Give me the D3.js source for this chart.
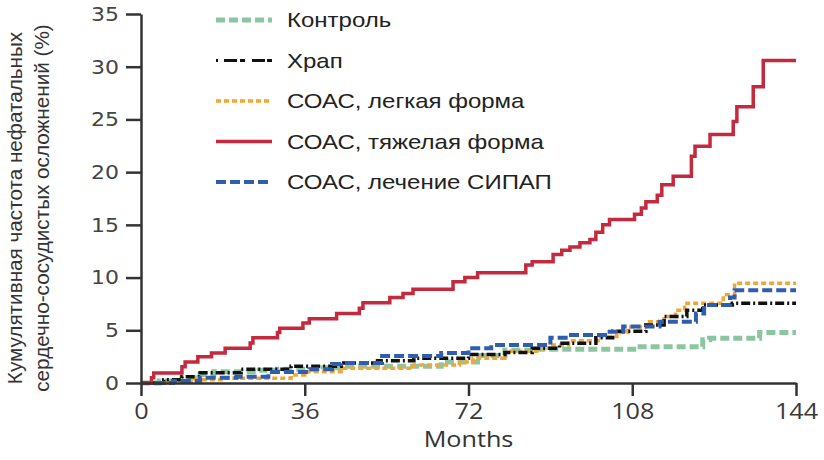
<!DOCTYPE html>
<html>
<head>
<meta charset="utf-8">
<script src="https://cdn.jsdelivr.net/npm/d3@7"></script>
<style>
  html, body { margin: 0; padding: 0; background: #fff; }
  svg { display: block; }
</style>
</head>
<body>
<svg id="chart" width="824" height="460"></svg>
<script>
// Step data: [month, cumulative % from that month on]
const controlSteps = [[0,0],[4,0.2],[9,0.5],[13,0.8],[16,1.07],[26,1.2],[30,1.3],[40,1.45],[44,1.6],[66,2.0],[74,2.6],[80,3.1],[87,3.2],[109,3.45],[123.5,4.1],[125,4.24],[136,4.8],[144,4.8]];
const snoringSteps = [[0,0],[5,0.3],[9,0.6],[13,0.98],[22,1.3],[33,1.6],[44,1.9],[52,2.1],[60,2.35],[72,2.7],[80,2.9],[86,3.3],[92,3.77],[100,4.3],[103.7,4.9],[111,5.5],[115,6.3],[120,6.9],[123.5,7.4],[130,7.57],[144,7.57]];
const mildSteps = [[0,0],[6,0.1],[12,0.3],[18,0.45],[33,0.75],[36,1.07],[44,1.4],[60,1.7],[70,2.0],[73,2.35],[80,3.0],[87,3.3],[90,3.6],[94,4.0],[101,4.4],[104.6,4.8],[107,5.3],[111,5.8],[115,6.3],[117.5,6.9],[119.5,7.57],[128,8.36],[130.5,9.47],[144,9.47]];
const severeSteps = [[0,0],[2.3,0.5],[2.8,0.95],[9,1.55],[9.7,2.0],[12.5,2.5],[15.5,2.85],[18.5,3.3],[24,3.8],[24.6,4.3],[30,4.8],[30.5,5.2],[35.6,5.7],[37,6.1],[43,6.6],[48,7.1],[48.8,7.6],[54.7,8.1],[57.6,8.5],[59.8,8.9],[68.6,9.6],[71.2,10.0],[74,10.45],[84.6,11.2],[86,11.5],[90.6,12.2],[92.5,12.6],[94.3,12.9],[96.5,13.3],[98.7,13.6],[100,14.3],[101.5,15.0],[103,15.5],[108.5,16.0],[110,16.6],[111,17.2],[113.5,17.8],[114.5,18.8],[117,19.6],[121,21.5],[121.8,22.45],[125.1,23.56],[130.2,24.8],[131,26.2],[134.6,28.1],[136.8,30.6],[144,30.6]];
const cpapSteps = [[0,0],[7,0.2],[13,0.5],[21,0.6],[28,1.05],[37,1.3],[42,1.8],[44,1.9],[53,2.55],[66,2.85],[72,3.3],[77,3.6],[90,4.3],[94,4.55],[102.5,4.87],[106,5.35],[114,5.8],[122,6.6],[123.8,7.4],[129.5,8.1],[130.5,8.8],[144,8.8]];

const seriesNames = ["Контроль","Храп","СОАС, легкая форма","СОАС, тяжелая форма","СОАС, лечение СИПАП"];
const xTicks = [0,36,72,108,144];
const yTicks = [0,5,10,15,20,25,30,35];
const xTitle = "Months";
const yTitleLines = ["Кумулятивная частота нефатальных","сердечно-сосудистых осложнений (%)"];

const styles = [
  {color:"#8cc6a0", width:5,   dash:"9,4"},
  {color:"#111111", width:3.5, dash:"9,3,2,3"},
  {color:"#f2a633", width:3.5, dash:"5,3"},
  {color:"#c42a3e", width:3.5, dash:null},
  {color:"#2f5eae", width:4,   dash:"10,4"}
];
const data = [controlSteps, snoringSteps, mildSteps, severeSteps, cpapSteps];

// Horizontal text stretch used by the figure's typography
const SX = 1.2;

const svg = d3.select("#chart");
const x = d3.scaleLinear().domain([0,144]).range([141,796]);
const y = d3.scaleLinear().domain([0,35]).range([383,14]);

// Curves (step-after); severe drawn last so it sits on top
const line = d3.line().x(d => x(d[0])).y(d => y(d[1])).curve(d3.curveStepAfter);
const drawOrder = [0,2,1,4,3];
drawOrder.forEach(i => {
  svg.append("path")
    .datum(data[i])
    .attr("d", line)
    .attr("fill","none")
    .attr("stroke", styles[i].color)
    .attr("stroke-width", styles[i].width)
    .attr("stroke-dasharray", styles[i].dash)
    .attr("stroke-linejoin","miter");
});

// Axes
const axisColor = "#333";
const gx = svg.append("g").attr("transform",`translate(0,${y(0)})`)
  .call(d3.axisBottom(x).tickValues(xTicks).tickSize(13).tickSizeOuter(0).tickPadding(8));
const gy = svg.append("g").attr("transform",`translate(${x(0)},0)`)
  .call(d3.axisLeft(y).tickValues(yTicks).tickSize(15).tickSizeOuter(0).tickPadding(7));
[gx, gy].forEach(g => {
  g.select(".domain").attr("stroke",axisColor).attr("stroke-width",2.5);
  g.selectAll(".tick line").attr("stroke",axisColor).attr("stroke-width",2.5);
});
gx.selectAll(".tick text")
  .attr("font-family","'Open Sans', sans-serif").attr("font-size",21).attr("fill","#3a3a3a")
  .attr("transform",`scale(${SX},1)`);
gy.selectAll(".tick text")
  .attr("font-family","'DejaVu Sans', sans-serif").attr("font-size",20).attr("fill","#444")
  .attr("x",0).attr("transform",`translate(-22,0) scale(1.1,1)`);

svg.append("text")
  .attr("transform",`translate(${(x(0)+x(144))/2},447) scale(${SX},1)`)
  .attr("text-anchor","middle").attr("font-family","'Open Sans', sans-serif")
  .attr("font-size",21).attr("fill","#333").text(xTitle);

yTitleLines.forEach((t,i) => {
  svg.append("text")
    .attr("transform",`translate(${22 + i*27},208) rotate(-90)`)
    .attr("text-anchor","middle")
    .attr("font-family","'Liberation Sans', Arial, sans-serif")
    .attr("font-size",20.7).attr("fill","#333").text(t);
});

// Legend
const legend = svg.append("g");
seriesNames.forEach((name,i) => {
  const ly = 20 + i*40.5;
  legend.append("line").attr("x1",216).attr("x2",272).attr("y1",ly).attr("y2",ly)
    .attr("stroke",styles[i].color).attr("stroke-width",i===1?3:styles[i].width)
    .attr("stroke-dasharray", i===1 ? "2,6,13,3,5,7,13" : styles[i].dash);
  legend.append("text")
    .attr("transform",`translate(287,${ly}) scale(${SX},1)`)
    .attr("dy","0.36em")
    .attr("font-family","'Liberation Sans', Arial, sans-serif")
    .attr("font-size",20).attr("fill","#222").text(name);
});
</script>
</body>
</html>
